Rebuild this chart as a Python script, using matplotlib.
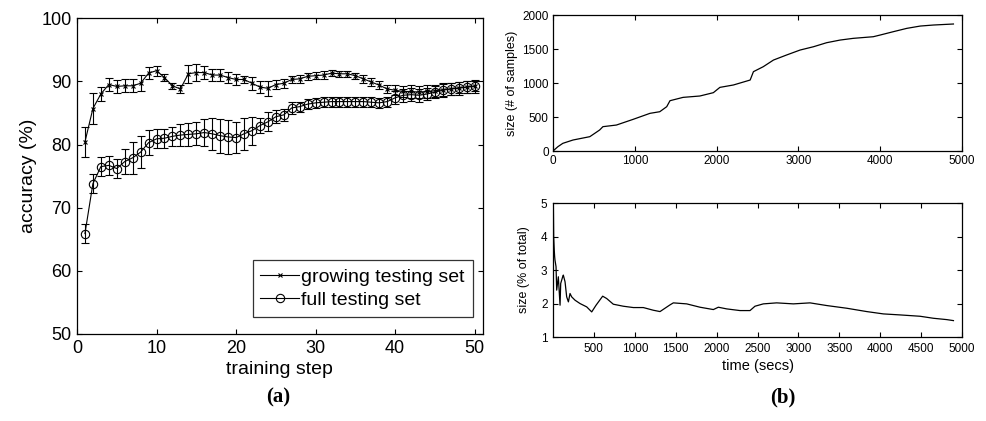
import matplotlib
matplotlib.use("Agg")
import matplotlib.pyplot as plt
import numpy as np

plt.rcParams['font.family'] = ['Liberation Sans', 'DejaVu Sans']

# ---- panel (a) data ----
steps = list(range(1, 51))
grow_mean = [80.4, 85.7, 88.0, 89.5, 89.2, 89.3, 89.3, 89.7, 91.3, 91.7,
             90.6, 89.3, 88.8, 91.2, 91.4, 91.4, 91.0, 91.0, 90.6, 90.3,
             90.3, 89.7, 89.1, 88.9, 89.5, 89.7, 90.3, 90.4, 90.8, 90.9,
             91.0, 91.3, 91.2, 91.2, 90.9, 90.4, 89.9, 89.4, 88.8, 88.6,
             88.4, 88.4, 88.3, 88.4, 88.5, 88.7, 88.8, 89.0, 89.1, 89.3]
grow_err = [2.4, 2.5, 1.1, 1.0, 1.0, 1.0, 1.0, 1.3, 1.0, 0.8,
            0.6, 0.5, 0.6, 1.4, 1.3, 1.1, 1.0, 1.0, 0.9, 0.9,
            0.6, 1.0, 1.0, 1.2, 0.7, 0.7, 0.6, 0.6, 0.6, 0.6,
            0.6, 0.5, 0.5, 0.5, 0.5, 0.6, 0.6, 0.6, 0.6, 0.8,
            0.9, 1.0, 1.0, 1.0, 1.0, 1.0, 1.0, 0.9, 0.9, 0.8]
full_mean = [65.9, 73.8, 76.5, 76.7, 76.2, 77.3, 77.9, 78.8, 80.3, 80.9,
             81.0, 81.3, 81.5, 81.6, 81.7, 81.9, 81.7, 81.4, 81.2, 81.1,
             81.7, 82.2, 83.0, 83.6, 84.4, 84.7, 85.8, 86.0, 86.4, 86.6,
             86.7, 86.8, 86.8, 86.8, 86.8, 86.8, 86.7, 86.6, 86.8, 87.4,
             87.8, 87.9, 87.8, 88.0, 88.3, 88.6, 88.8, 88.9, 89.1, 89.2]
full_err = [1.5, 1.5, 1.5, 1.5, 1.5, 2.0, 2.5, 2.5, 2.0, 1.5,
            1.5, 1.5, 1.7, 1.8, 1.8, 2.1, 2.5, 2.7, 2.7, 2.5,
            2.5, 2.2, 1.2, 1.5, 1.0, 1.0, 1.0, 0.8, 0.8, 0.8,
            0.8, 0.8, 0.8, 0.8, 0.8, 0.8, 0.8, 0.8, 0.8, 1.0,
            1.0, 1.0, 1.0, 1.0, 1.0, 1.0, 1.0, 1.0, 1.0, 1.0]

# ---- panel (b) data ----
size_t = [0, 60, 120, 245, 450, 570, 610, 775, 980, 1185, 1305, 1390, 1430,
          1590, 1795, 1960, 2040, 2205, 2410, 2450, 2570, 2695, 2855, 3020,
          3185, 3345, 3510, 3670, 3915, 4000, 4160, 4325, 4490, 4650, 4895]
size_n = [0, 64, 113, 162, 211, 309, 358, 382, 466, 554, 578, 652, 740,
          789, 809, 858, 936, 971, 1044, 1167, 1240, 1338, 1412, 1485,
          1534, 1593, 1632, 1657, 1681, 1706, 1755, 1804, 1838, 1853, 1868]

pct_t = [4, 8, 15, 20, 24, 37, 45, 65, 86, 94, 118, 126, 147, 167, 188, 208,
         228, 269, 330, 412, 473, 526, 607, 656, 737, 859, 982, 1104, 1226,
         1308, 1430, 1471, 1634, 1797, 1960, 2021, 2123, 2286, 2408, 2469,
         2571, 2734, 2938, 3142, 3346, 3590, 3835, 4039, 4243, 4487, 4650,
         4813, 4895]
pct_v = [5.0, 4.0, 3.6, 3.4, 3.3, 3.1, 2.4, 2.8, 1.95, 2.6, 2.8, 2.85, 2.65,
         2.2, 2.05, 2.3, 2.2, 2.1, 2.0, 1.9, 1.75, 1.95, 2.22, 2.15, 1.98,
         1.92, 1.88, 1.88, 1.8, 1.76, 1.96, 2.02, 1.99, 1.89, 1.82, 1.89,
         1.84, 1.79, 1.79, 1.92, 1.99, 2.02, 1.99, 2.02, 1.94, 1.86, 1.76,
         1.69, 1.66, 1.62, 1.56, 1.52, 1.49]

fig = plt.figure(figsize=(9.87, 4.21), dpi=100)

def style(ax, fs, pad=3):
    ax.tick_params(direction='in', top=True, right=True, length=3.5,
                   width=0.8, labelsize=fs, pad=pad)
    for s in ax.spines.values():
        s.set_linewidth(0.9)

# panel (a)
ax1 = fig.add_axes([0.078, 0.2067, 0.411, 0.750])
ax1.errorbar(steps, grow_mean, yerr=grow_err, color='black', lw=0.8,
             marker='x', ms=3.5, mew=0.8, capsize=2.8, elinewidth=0.8,
             capthick=0.8, label='growing testing set')
ax1.errorbar(steps, full_mean, yerr=full_err, color='black', lw=0.8,
             marker='o', ms=6, mfc='none', mew=0.8, capsize=2.8,
             elinewidth=0.8, capthick=0.8, label='full testing set')
ax1.set_xlim(0, 51)
ax1.set_ylim(50, 100)
ax1.set_xticks([0, 10, 20, 30, 40, 50])
ax1.set_yticks([50, 60, 70, 80, 90, 100])
style(ax1, 13, pad=4)
ax1.set_xlabel('training step', fontsize=14, labelpad=3)
ax1.set_ylabel('accuracy (%)', fontsize=14, labelpad=3)
handles, labels = ax1.get_legend_handles_labels()
hs = [h[0] for h in handles]
leg = ax1.legend(hs, labels, loc='lower right', bbox_to_anchor=(0.975, 0.054),
                 fontsize=14, frameon=True, fancybox=False, edgecolor='black',
                 handlelength=2.0, handletextpad=0.1, borderpad=0.4,
                 labelspacing=0.3, borderaxespad=0.0)
leg.get_frame().set_linewidth(0.9)

# panel (b) top
ax2 = fig.add_axes([0.5603, 0.6413, 0.4144, 0.323])
ax2.plot(size_t, size_n, color='black', lw=0.9)
ax2.set_xlim(0, 5000)
ax2.set_ylim(0, 2000)
ax2.set_xticks([0, 1000, 2000, 3000, 4000, 5000])
ax2.set_yticks([0, 500, 1000, 1500, 2000])
style(ax2, 8.5)
ax2.set_ylabel('size (# of samples)', fontsize=9, labelpad=3)

# panel (b) bottom
ax3 = fig.add_axes([0.5603, 0.1995, 0.4144, 0.318])
ax3.plot(pct_t, pct_v, color='black', lw=0.9)
ax3.set_xlim(0, 5000)
ax3.set_ylim(1, 5)
ax3.set_xticks(list(range(500, 5001, 500)))
ax3.set_yticks([1, 2, 3, 4, 5])
style(ax3, 8.5, pad=4)
ax3.set_ylabel('size (% of total)', fontsize=9, labelpad=8)
ax3.set_xlabel('time (secs)', fontsize=10.5, labelpad=3)

fig.text(0.282, 0.055, '(a)', fontsize=15, fontweight='bold',
         family='Liberation Serif', ha='center', va='center')
fig.text(0.793, 0.055, '(b)', fontsize=15, fontweight='bold',
         family='Liberation Serif', ha='center', va='center')

fig.savefig('out.png', dpi=100)
